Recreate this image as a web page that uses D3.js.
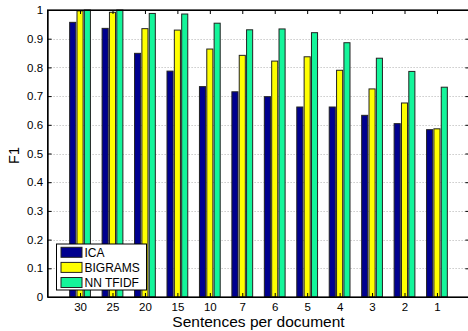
<!DOCTYPE html>
<html><head><meta charset="utf-8">
<script src="https://cdn.jsdelivr.net/npm/d3@7"></script>
<style>body{margin:0;background:#fff}svg{display:block}text{font-family:"Liberation Sans",Arial,sans-serif}</style>
</head><body>
<svg id="c" width="468" height="331"></svg>
<script>
const categories = ["30","25","20","15","10","7","6","5","4","3","2","1"];
const seriesNames = ["ICA","BIGRAMS","NN TFIDF"];
const ica     = [0.957,0.936,0.849,0.787,0.733,0.715,0.698,0.662,0.662,0.633,0.604,0.583];
const bigrams = [0.997,0.992,0.935,0.930,0.864,0.842,0.822,0.837,0.790,0.725,0.676,0.586];
const nntfidf = [1.000,1.000,0.988,0.986,0.954,0.931,0.934,0.921,0.886,0.832,0.786,0.731];
const yTicks = [0,0.1,0.2,0.3,0.4,0.5,0.6,0.7,0.8,0.9,1];
const colors = ["#00008F","#FFFF00","#14F59A"];
const seriesValues = [ica, bigrams, nntfidf];

const svg = d3.select("#c");
const L = 47.6, R = 469.4, T = 10, B = 297;
const x = d3.scaleLinear().domain([0, categories.length + 1]).range([L, R]);
const y = d3.scaleLinear().domain([0, 1]).range([B, T]);
const sub = d3.scaleBand().domain(seriesNames).range([-0.32, 0.32]).paddingInner(0.17);

// gridlines
svg.append("g").selectAll("line").data(yTicks.filter(t => t > 0 && t < 1)).join("line")
  .attr("x1", L).attr("x2", R).attr("y1", d => Math.round(y(d)) + 0.5).attr("y2", d => Math.round(y(d)) + 0.5)
  .attr("stroke", "#b0b0b0").attr("stroke-width", 1).attr("stroke-dasharray", "1,2");

// bars
seriesNames.forEach((s, si) => {
  svg.append("g").selectAll("rect").data(seriesValues[si]).join("rect")
    .attr("x", (d, i) => x(i + 1 + sub(s)))
    .attr("width", x(sub.bandwidth()) - x(0))
    .attr("y", d => y(d))
    .attr("height", d => y(0) - y(d))
    .attr("fill", colors[si])
    .attr("stroke", "#222").attr("stroke-width", 1);
});

// axes
const idx = categories.map((c, i) => i + 1);
const xAxis = d3.axisBottom(x).tickValues(idx).tickFormat(i => categories[i - 1]).tickSizeInner(-4).tickSizeOuter(0).tickPadding(5.5);
svg.append("g").attr("transform", `translate(0,${B})`).call(xAxis);
const xTop = d3.axisTop(x).tickValues(idx).tickFormat("").tickSizeInner(-4).tickSizeOuter(0);
svg.append("g").attr("transform", `translate(0,${T})`).call(xTop);
const yAxis = d3.axisLeft(y).tickValues(yTicks).tickFormat(d => d === 0 ? "0" : d === 1 ? "1" : d3.format(".1f")(d)).tickSizeInner(-4).tickSizeOuter(0).tickPadding(4.5);
svg.append("g").attr("transform", `translate(${L},0)`).call(yAxis);
const yRight = d3.axisRight(y).tickValues(yTicks).tickFormat("").tickSizeInner(-4).tickSizeOuter(0);
svg.append("g").attr("transform", `translate(${R},0)`).call(yRight);
svg.selectAll(".domain").attr("stroke", "#000");
svg.selectAll(".tick line").attr("stroke", "#000");
svg.selectAll(".tick text").attr("font-size", 11.5).attr("fill", "#000").style("font-family", '"Liberation Sans",Arial,sans-serif');
// box
svg.append("rect").attr("x", L).attr("y", T).attr("width", R - L).attr("height", B - T)
  .attr("fill", "none").attr("stroke", "#000").attr("stroke-width", 1.2);

// labels
svg.append("text").attr("x", (L + R) / 2).attr("y", 327).attr("text-anchor", "middle")
  .attr("font-size", 15.5).text("Sentences per document");
svg.append("text").attr("transform", `translate(19,${(T + B) / 2 + 2}) rotate(-90)`).attr("text-anchor", "middle")
  .attr("font-size", 14.5).text("F1");

// legend
const lg = svg.append("g");
lg.append("rect").attr("x", 56.5).attr("y", 244).attr("width", 90).attr("height", 46)
  .attr("fill", "#fff").attr("stroke", "#000").attr("stroke-width", 1);
const ly = d3.scalePoint().domain(seriesNames).range([252.3, 282.5]);
seriesNames.forEach((s, si) => {
  lg.append("rect").attr("x", 61).attr("y", ly(s) - 5).attr("width", 21).attr("height", 10)
    .attr("fill", colors[si]).attr("stroke", "#222").attr("stroke-width", 1);
  lg.append("text").attr("x", 84.5).attr("y", ly(s) + 4.3).attr("font-size", 12).text(s);
});
</script>
</body></html>
